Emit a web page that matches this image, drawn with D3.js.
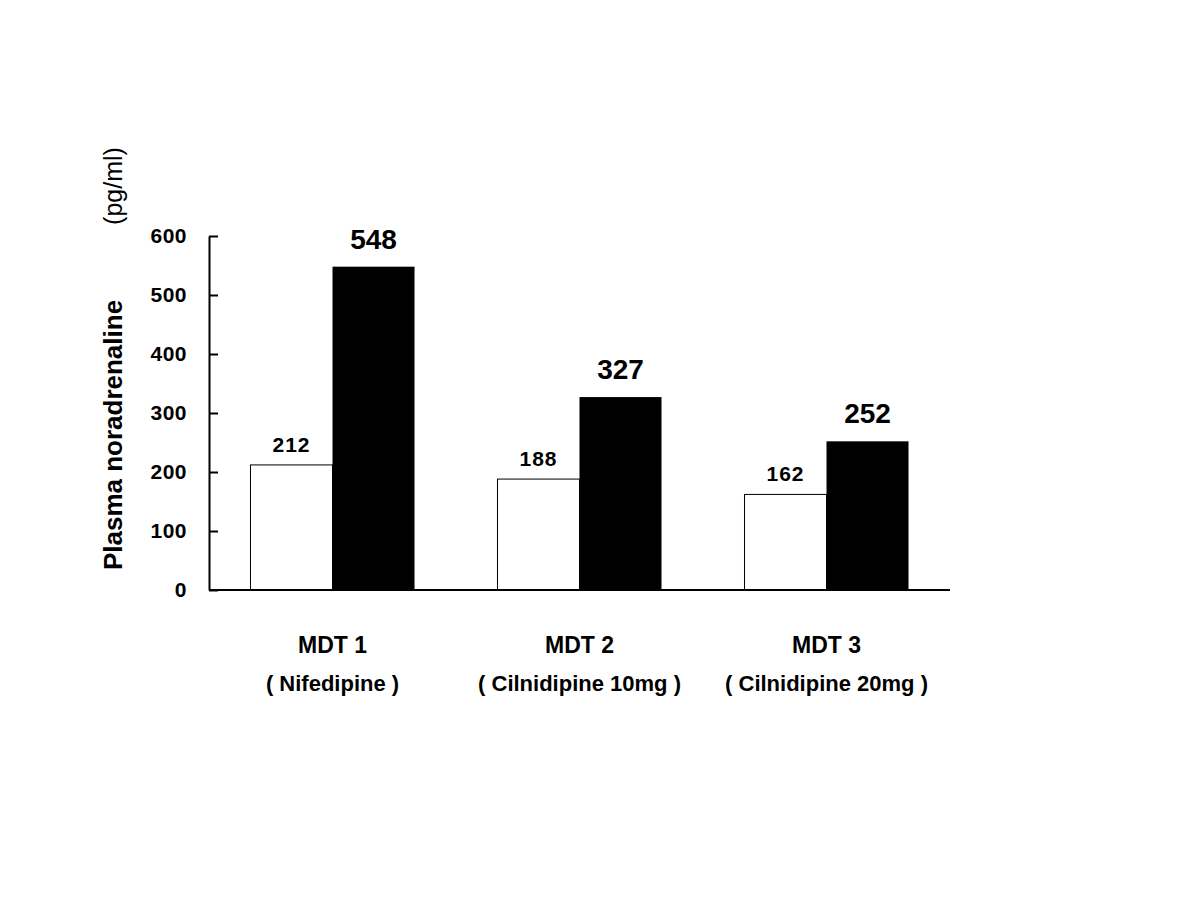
<!DOCTYPE html>
<head>
  <meta charset="utf-8">
  <script src="https://d3js.org/d3.v7.min.js"></script>
  <style>
body { margin: 0; background: #fff; }
svg { display: block; }
text { font-family: "Liberation Sans", Arial, sans-serif; fill: #000; }
  </style>
</head>
<body>
<svg width="1200" height="900"></svg>
<script>
// data
var groups = ["MDT 1", "MDT 2", "MDT 3"];
var drugs = ["( Nifedipine )", "( Cilnidipine 10mg )", "( Cilnidipine 20mg )"];
var series = ["before", "after"];
var beforeValues = [212, 188, 162];
var afterValues = [548, 327, 252];
var yTicks = [0, 100, 200, 300, 400, 500, 600];

var svg = d3.select("svg");

var x = d3.scaleBand()
    .domain(groups)
    .range([209, 950])
    .paddingInner(0.336)
    .paddingOuter(0.168);

var xs = d3.scaleBand()
    .domain(series)
    .range([0, x.bandwidth()]);

var y = d3.scaleLinear()
    .domain([0, 600])
    .range([590, 236]);

var rows = groups.map(function(g, i) {
  return {group: g, drug: drugs[i], before: beforeValues[i], after: afterValues[i]};
});

// bars
var g = svg.append("g");
var grp = g.selectAll("g.grp")
  .data(rows)
  .enter().append("g")
    .attr("class", "grp")
    .attr("transform", function(d) { return "translate(" + x(d.group) + ",0)"; });

grp.append("rect")
    .attr("x", xs("before"))
    .attr("y", function(d) { return y(d.before); })
    .attr("width", xs.bandwidth())
    .attr("height", function(d) { return y(0) - y(d.before); })
    .attr("fill", "#fff")
    .attr("stroke", "#000")
    .attr("stroke-width", 1);

grp.append("rect")
    .attr("x", xs("after"))
    .attr("y", function(d) { return y(d.after); })
    .attr("width", xs.bandwidth())
    .attr("height", function(d) { return y(0) - y(d.after); })
    .attr("fill", "#000");

// value labels
grp.append("text")
    .attr("x", xs("before") + xs.bandwidth() / 2)
    .attr("y", function(d) { return y(d.before) - 13; })
    .attr("text-anchor", "middle")
    .attr("font-weight", "bold")
    .attr("font-size", 21)
    .attr("letter-spacing", 1)
    .text(function(d) { return d.before; });

grp.append("text")
    .attr("x", xs("after") + xs.bandwidth() / 2)
    .attr("y", function(d) { return y(d.after) - 18; })
    .attr("text-anchor", "middle")
    .attr("font-weight", "bold")
    .attr("font-size", 28)
    .text(function(d) { return d.after; });

// category labels
grp.append("text")
    .attr("x", x.bandwidth() / 2)
    .attr("y", 653)
    .attr("text-anchor", "middle")
    .attr("font-weight", "bold")
    .attr("font-size", 23)
    .text(function(d) { return d.group; });

grp.append("text")
    .attr("x", x.bandwidth() / 2)
    .attr("y", 691)
    .attr("text-anchor", "middle")
    .attr("font-weight", "bold")
    .attr("font-size", 22)
    .text(function(d) { return d.drug; });

// y axis
var yAxis = svg.append("g")
    .attr("transform", "translate(209,0)")
    .call(d3.axisLeft(y)
      .tickValues(yTicks)
      .tickSizeInner(-9)
      .tickSizeOuter(0)
      .tickPadding(22));

yAxis.select(".domain").attr("stroke", "#000").attr("stroke-width", 2);
yAxis.selectAll(".tick line").attr("stroke", "#000").attr("stroke-width", 2);
yAxis.selectAll(".tick text")
    .attr("font-family", "Liberation Sans, Arial, sans-serif")
    .attr("font-weight", "bold")
    .attr("font-size", 21)
    .attr("letter-spacing", 0.5)
    .attr("fill", "#000");

// baseline
svg.append("line")
    .attr("x1", x.range()[0])
    .attr("x2", x.range()[1])
    .attr("y1", y(0))
    .attr("y2", y(0))
    .attr("stroke", "#000")
    .attr("stroke-width", 2);

// y title
svg.append("text")
    .attr("transform", "translate(122,435) rotate(-90)")
    .attr("text-anchor", "middle")
    .attr("font-weight", "bold")
    .attr("font-size", 26)
    .text("Plasma noradrenaline");

svg.append("text")
    .attr("transform", "translate(122,186) rotate(-90)")
    .attr("text-anchor", "middle")
    .attr("font-size", 25)
    .text("(pg/ml)");
</script>
</body>
